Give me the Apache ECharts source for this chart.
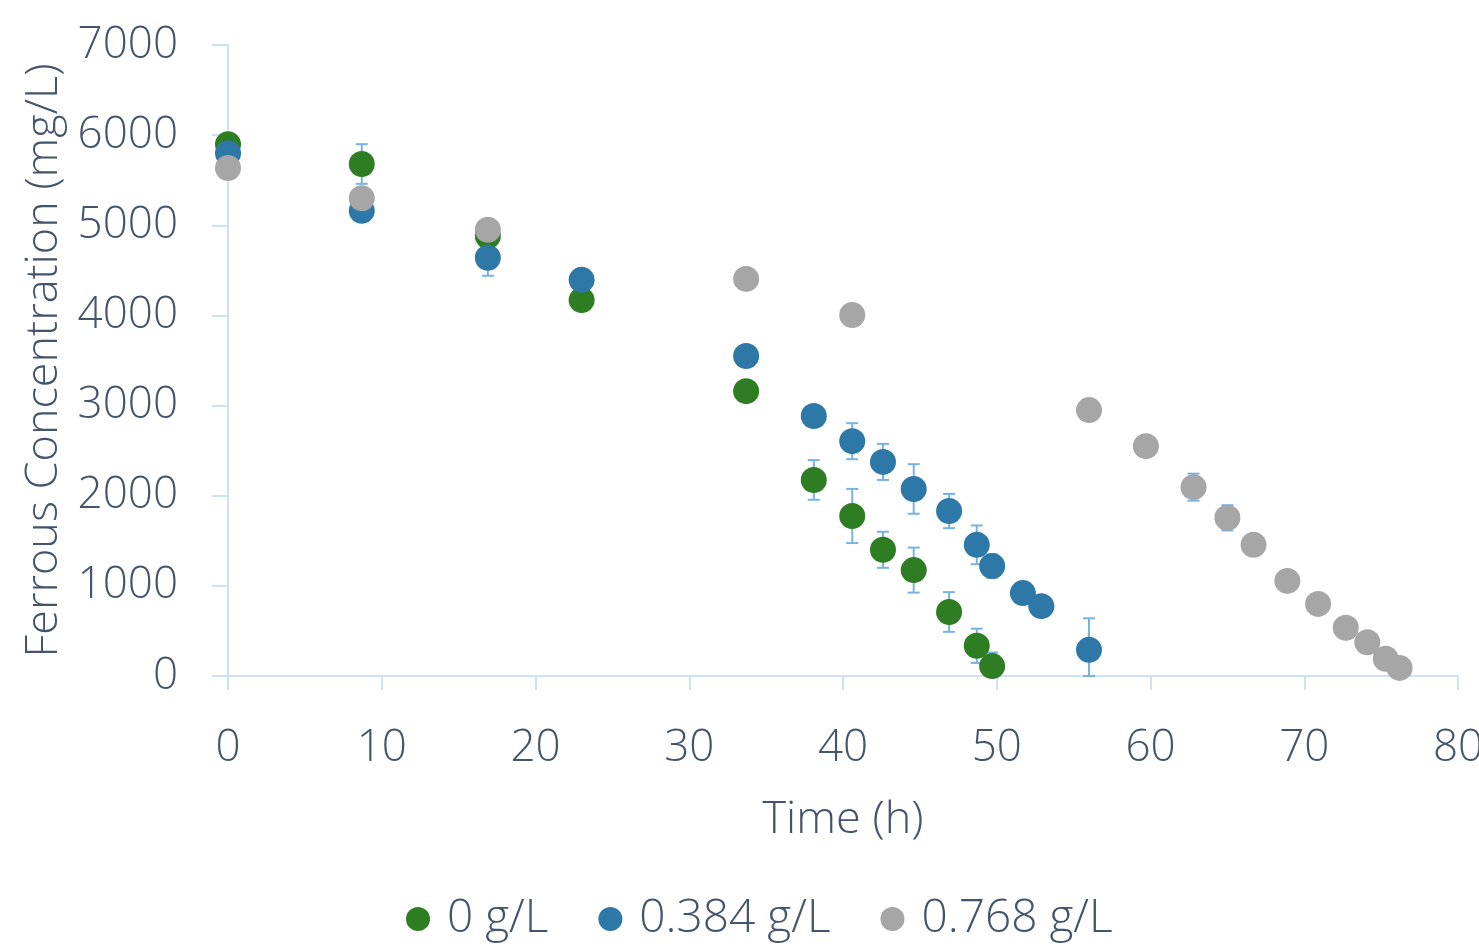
<!DOCTYPE html>
<html>
<head>
<meta charset="utf-8">
<script src="https://cdn.jsdelivr.net/npm/echarts@6/dist/echarts.min.js"></script>
<style>
  html, body { margin: 0; padding: 0; background: #ffffff; }
  #chart { width: 1479px; height: 948px; }
</style>
</head>
<body>
<div id="chart"></div>
<script>
// Ferrous concentration over time at three additive loadings
const seriesNames = ['0 g/L', '0.384 g/L', '0.768 g/L'];
const seriesColors = ['#2e7d22', '#2e78a8', '#a6a6a6'];

const timeA = [0, 8.7, 16.9, 23.0, 33.7, 38.1, 40.6, 42.6, 44.6, 46.9, 48.7, 49.7];
const concA = [5900, 5680, 4880, 4170, 3160, 2175, 1775, 1400, 1175, 710, 335, 110];
const errA  = [0, 220, 0, 0, 0, 220, 300, 200, 250, 220, 190, 150];

const timeB = [0, 8.7, 16.9, 23.0, 33.7, 38.1, 40.6, 42.6, 44.6, 46.9, 48.7, 49.7, 51.7, 52.9, 56.0];
const concB = [5800, 5160, 4640, 4395, 3550, 2885, 2605, 2375, 2075, 1830, 1455, 1220, 920, 775, 290];
const errB  = [0, 0, 200, 0, 0, 0, 200, 200, 275, 190, 215, 130, 0, 0, 350];

const timeC = [0, 8.7, 16.9, 33.7, 40.6, 56.0, 59.7, 62.8, 65.0, 66.7, 68.9, 70.9, 72.7, 74.1, 75.3, 76.2];
const concC = [5635, 5300, 4950, 4405, 4005, 2950, 2550, 2095, 1755, 1455, 1055, 800, 535, 375, 190, 90];
const errC  = [0, 0, 0, 0, 0, 0, 0, 150, 140, 0, 0, 0, 0, 0, 0, 0];

const xTicks = [0, 10, 20, 30, 40, 50, 60, 70, 80];
const yTicks = [0, 1000, 2000, 3000, 4000, 5000, 6000, 7000];

const textColor = '#44546a';
const axisColor = '#cde1f2';
const errColor = '#78b3e0';
const fontFamily = '"Open Sans", "Noto Sans", sans-serif';

const groups = [
  { t: timeA, v: concA, e: errA },
  { t: timeB, v: concB, e: errB },
  { t: timeC, v: concC, e: errC }
];

function errorBarItem(params, api) {
  const x = api.value(0);
  const y = api.value(1);
  const e = api.value(2);
  const top = api.coord([x, y + e]);
  const bot = api.coord([x, Math.max(0, y - e)]);
  const half = 6;
  const style = { stroke: errColor, lineWidth: 2, fill: null };
  return {
    type: 'group',
    children: [
      { type: 'line', shape: { x1: top[0], y1: top[1], x2: bot[0], y2: bot[1] }, style },
      { type: 'line', shape: { x1: top[0] - half, y1: top[1], x2: top[0] + half, y2: top[1] }, style },
      { type: 'line', shape: { x1: bot[0] - half, y1: bot[1], x2: bot[0] + half, y2: bot[1] }, style }
    ]
  };
}

const series = [];
groups.forEach((g, i) => {
  series.push({
    name: seriesNames[i],
    type: 'scatter',
    symbol: 'circle',
    symbolSize: 26,
    itemStyle: { color: seriesColors[i], opacity: 1 },
    z: 3,
    data: g.t.map((t, k) => [t, g.v[k]])
  });
});
groups.forEach((g, i) => {
  series.push({
    name: seriesNames[i] + ' error',
    type: 'custom',
    renderItem: errorBarItem,
    z: 2,
    silent: true,
    data: g.t.map((t, k) => [t, g.v[k], g.e[k]]).filter(d => d[2] > 0)
  });
});

const chart = echarts.init(document.getElementById('chart'), null, { renderer: 'canvas' });
chart.setOption({
  animation: false,
  backgroundColor: '#ffffff',
  textStyle: { fontFamily: fontFamily },
  grid: { left: 228, right: 21, top: 45, bottom: 272, containLabel: false, outerBoundsMode: 'none' },
  legend: {
    data: seriesNames,
    bottom: 1,
    left: 401,
    icon: 'circle',
    itemWidth: 24,
    itemHeight: 24,
    itemGap: 50,
    textStyle: { color: textColor, fontSize: 46, fontWeight: 300, fontFamily: fontFamily, padding: [0, 0, 0, 12] }
  },
  xAxis: {
    type: 'value',
    min: 0,
    max: 80,
    interval: 10,
    name: 'Time (h)',
    nameLocation: 'middle',
    nameGap: 122,
    nameTextStyle: { color: textColor, fontSize: 45, fontWeight: 300 },
    axisLine: { show: true, onZero: false, lineStyle: { color: axisColor, width: 2 } },
    axisTick: { show: true, length: 14, lineStyle: { color: axisColor, width: 2 } },
    axisLabel: {
      color: textColor, fontSize: 44, fontWeight: 300, margin: 50,
      formatter: v => (xTicks.indexOf(v) >= 0 ? String(v) : '')
    },
    splitLine: { show: false }
  },
  yAxis: {
    type: 'value',
    min: 0,
    max: 7000,
    interval: 1000,
    name: 'Ferrous Concentration (mg/L)',
    nameLocation: 'middle',
    nameGap: 160,
    nameTextStyle: { color: textColor, fontSize: 45, fontWeight: 300 },
    axisLine: { show: true, lineStyle: { color: axisColor, width: 2 } },
    axisTick: { show: true, length: 16, lineStyle: { color: axisColor, width: 2 } },
    axisLabel: {
      color: textColor, fontSize: 44, fontWeight: 300, margin: 50,
      formatter: v => (yTicks.indexOf(v) >= 0 ? String(v) : '')
    },
    splitLine: { show: false }
  },
  series: series
});
</script>
</body>
</html>
